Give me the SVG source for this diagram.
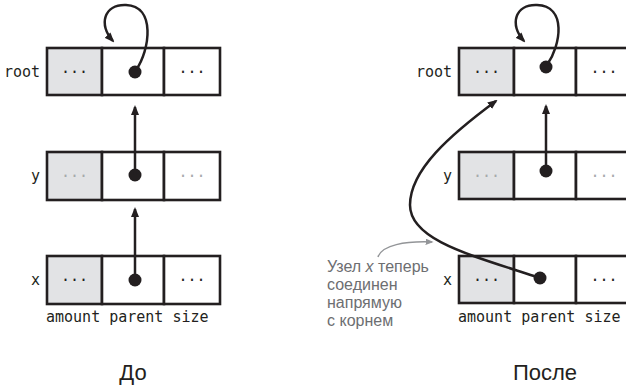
<svg xmlns="http://www.w3.org/2000/svg" width="626" height="387" viewBox="0 0 626 387">
<style>
.cell{fill:#fff;stroke:#231f20;stroke-width:2.6}
.shade{fill:#e2e3e5}
.mono{font-family:"DejaVu Sans Mono","Liberation Mono",monospace;font-size:15px;fill:#231f20}
.ell{font-family:"DejaVu Sans Mono","Liberation Mono",monospace;font-size:15px;fill:#231f20;text-anchor:middle}
.light{fill:#a7a9ac}
.dot{fill:#231f20}
.conn{fill:none;stroke:#231f20;stroke-width:2.5}
.note{font-family:"Liberation Sans",Arial,sans-serif;font-size:16px;fill:#6d6e71}
.title{font-family:"Liberation Sans",Arial,sans-serif;font-size:22px;fill:#231f20;text-anchor:middle}
</style>
<defs>
<marker id="ah" viewBox="0 0 10 8" refX="8" refY="4" markerWidth="10" markerHeight="8" markerUnits="userSpaceOnUse" orient="auto">
<path d="M0,0 L10,4 L0,8 z" fill="#231f20"/>
</marker>
<marker id="ahg" viewBox="0 0 10 8" refX="8" refY="4" markerWidth="8" markerHeight="6.5" markerUnits="userSpaceOnUse" orient="auto">
<path d="M0,0 L10,4 L0,8 z" fill="#939598"/>
</marker>
</defs>
<rect width="626" height="387" fill="#fff"/>

<!-- Before -->
<g id="before-root">
<rect class="cell shade" x="47" y="48" width="55" height="47"/>
<rect class="cell" x="102" y="48" width="62" height="47"/>
<rect class="cell" x="164" y="48" width="56" height="47"/>
<text class="mono" x="40" y="77" text-anchor="end">root</text>
<text class="ell" x="74.5" y="77">···</text>
<text class="ell" x="192" y="77">···</text>
<circle class="dot" cx="135" cy="72" r="6.5"/>
</g>
<g id="before-y">
<rect class="cell shade" x="47" y="152" width="55" height="48"/>
<rect class="cell" x="102" y="152" width="62" height="48"/>
<rect class="cell" x="164" y="152" width="56" height="48"/>
<text class="mono" x="40" y="181" text-anchor="end">y</text>
<text class="ell light" x="74.5" y="181">···</text>
<text class="ell light" x="192" y="181">···</text>
<circle class="dot" cx="135" cy="175" r="6.5"/>
</g>
<g id="before-x">
<rect class="cell shade" x="47" y="256" width="55" height="48"/>
<rect class="cell" x="102" y="256" width="62" height="48"/>
<rect class="cell" x="164" y="256" width="56" height="48"/>
<text class="mono" x="40" y="285" text-anchor="end">x</text>
<text class="ell" x="74.5" y="285">···</text>
<text class="ell" x="192" y="285">···</text>
<circle class="dot" cx="135" cy="280" r="6.5"/>
<text class="mono" x="46" y="322">amount parent size</text>
</g>
<text class="title" x="133" y="380">До</text>

<!-- After -->
<g id="after-root">
<rect class="cell shade" x="459" y="48" width="55" height="47"/>
<rect class="cell" x="514" y="48" width="62" height="47"/>
<rect class="cell" x="576" y="48" width="56" height="47"/>
<text class="mono" x="452" y="77" text-anchor="end">root</text>
<text class="ell" x="486.5" y="77">···</text>
<text class="ell" x="604" y="77">···</text>
<circle class="dot" cx="546" cy="67" r="6.5"/>
</g>
<g id="after-y">
<rect class="cell shade" x="459" y="152" width="55" height="47"/>
<rect class="cell" x="514" y="152" width="62" height="47"/>
<rect class="cell" x="576" y="152" width="56" height="47"/>
<text class="mono" x="452" y="181" text-anchor="end">y</text>
<text class="ell light" x="486.5" y="181">···</text>
<text class="ell light" x="604" y="181">···</text>
<circle class="dot" cx="546" cy="171" r="6.5"/>
</g>
<g id="after-x">
<rect class="cell shade" x="459" y="256" width="55" height="47"/>
<rect class="cell" x="514" y="256" width="62" height="47"/>
<rect class="cell" x="576" y="256" width="56" height="47"/>
<text class="mono" x="452" y="285" text-anchor="end">x</text>
<text class="ell" x="486.5" y="285">···</text>
<text class="ell" x="604" y="285">···</text>
<circle class="dot" cx="540" cy="278" r="6.5"/>
<text class="mono" x="458" y="322">amount parent size</text>
</g>
<text class="title" x="545" y="380">После</text>

<g id="note">
<text class="note" x="327" y="272">Узел <tspan font-style="italic">x</tspan> теперь</text>
<text class="note" x="327" y="290">соединен</text>
<text class="note" x="327" y="308">напрямую</text>
<text class="note" x="327" y="326">с корнем</text>
</g>

<g id="connectors">
<path class="conn" d="M136,70 C150,50 156,6 126,5 C104,4 98,25 113,41" marker-end="url(#ah)"/>
<path class="conn" d="M135,175 L135,107" marker-end="url(#ah)"/>
<path class="conn" d="M135,280 L135,209" marker-end="url(#ah)"/>
<path class="conn" d="M547,65 C561,45 567,6 537,5 C515,4 509,25 524,41" marker-end="url(#ah)"/>
<path class="conn" d="M546,171 L546,106" marker-end="url(#ah)"/>
<path class="conn" d="M540,278 C470,255 410,240 410,205 C410,170 450,135 496,101" marker-end="url(#ah)"/>
<path d="M378,257 C382,245 405,241 432,242" fill="none" stroke="#939598" stroke-width="1.5" marker-end="url(#ahg)"/>
</g>
</svg>
